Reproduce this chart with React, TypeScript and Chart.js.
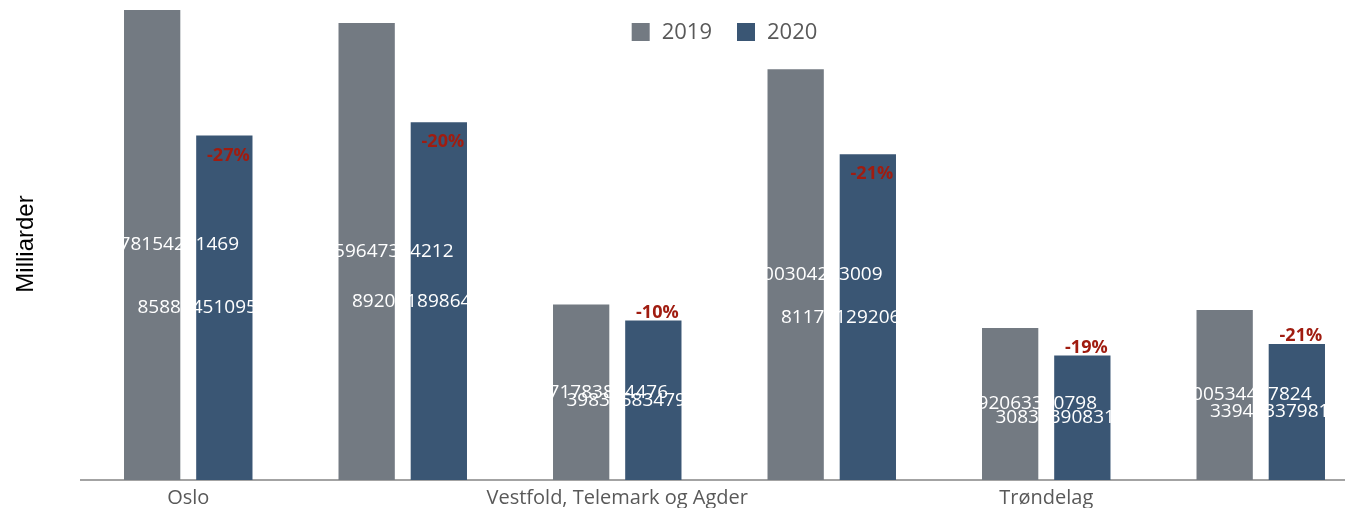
import React, { useEffect, useRef } from "react";
import { Chart, registerables } from "chart.js";

Chart.register(...registerables);

const categories = [
  "Oslo",
  "Innlandet og Viken",
  "Vestfold, Telemark og Agder",
  "Vestlandet",
  "Trøndelag",
  "Nord-Norge",
];
const seriesNames = ["2019", "2020"];
const values2019 = [49.8, 48.4, 18.6, 43.5, 16.1, 18.0];
const values2020 = [36.5, 37.9, 16.9, 34.5, 13.2, 14.4];
const valueLabels2019 = [
  "4961778154231469",
  "4834559647314212",
  "1745171783844476",
  "4352100304213009",
  "1559292063300798",
  "1720100534477824",
];
const valueLabels2020 = [
  "8588745109534712",
  "8920318986412057",
  "3983558347920471",
  "8117512920693850",
  "3083339083164527",
  "3394533798120146",
];
const changeLabels = ["-27%", "-20%", "-10%", "-21%", "-19%", "-21%"];
const yMin = 0;
const yMax = 50;

const colors = ["#737a82", "#3a5674"];
const labelFont = "19px 'Open Sans', sans-serif";
const pctFont = "bold 18px 'Open Sans', sans-serif";
const legendFont = "22px 'Open Sans', sans-serif";

const overlayPlugin = {
  id: "overlay",
  afterDatasetsDraw(chart: any) {
    const ctx = chart.ctx;
    const ca = chart.chartArea;
    ctx.save();
    ctx.font = labelFont;
    ctx.fillStyle = "#ffffff";
    ctx.textAlign = "center";
    ctx.textBaseline = "middle";
    const lbls = [valueLabels2019, valueLabels2020];
    for (let d = 0; d < 2; d++) {
      const meta = chart.getDatasetMeta(d);
      meta.data.forEach((bar: any, i: number) => {
        ctx.fillText(lbls[d][i], bar.x, (bar.y + bar.base) / 2);
      });
    }
    ctx.font = pctFont;
    ctx.fillStyle = "#a01c10";
    const meta20 = chart.getDatasetMeta(1);
    meta20.data.forEach((bar: any, i: number) => {
      const v = values2020[i];
      if (v > 25) {
        ctx.textBaseline = "top";
        ctx.fillText(changeLabels[i], bar.x + 4, bar.y + 11);
      } else {
        ctx.textBaseline = "bottom";
        ctx.fillText(changeLabels[i], bar.x + 4, bar.y + 1);
      }
    });
    ctx.font = legendFont;
    ctx.textAlign = "left";
    ctx.textBaseline = "middle";
    const box = 18;
    const gapBox = 12;
    const gapItem = 25;
    const widths = seriesNames.map((s) => ctx.measureText(s).width);
    const total =
      widths.reduce((a, w) => a + box + gapBox + w, 0) + gapItem * (seriesNames.length - 1);
    let x = (ca.left + ca.right) / 2 - total / 2;
    const cy = 24;
    seriesNames.forEach((s, i) => {
      ctx.fillStyle = colors[i];
      ctx.fillRect(x, cy - box / 2, box, box);
      x += box + gapBox;
      ctx.fillStyle = "#595959";
      ctx.fillText(s, x, cy + 1);
      x += widths[i] + gapItem;
    });
    ctx.restore();
  },
};

export default function App() {
  const ref = useRef<HTMLCanvasElement | null>(null);
  useEffect(() => {
    document.documentElement.style.overflow = "hidden";
    if (!ref.current) return;
    const chart = new Chart(ref.current, {
      type: "bar",
      data: {
        labels: categories,
        datasets: [
          {
            label: seriesNames[0],
            data: values2019,
            backgroundColor: colors[0],
            barPercentage: 0.78,
            categoryPercentage: 0.673,
          },
          {
            label: seriesNames[1],
            data: values2020,
            backgroundColor: colors[1],
            barPercentage: 0.78,
            categoryPercentage: 0.673,
          },
        ],
      },
      options: {
        animation: false,
        responsive: true,
        maintainAspectRatio: false,
        layout: { padding: { left: 0, right: 0, top: 0, bottom: 0 } },
        plugins: {
          legend: { display: false },
          tooltip: { enabled: false },
        },
        scales: {
          x: {
            grid: { display: false, drawTicks: false },
            border: { display: true, color: "#a3a3a3", width: 2 },
            ticks: {
              color: "#595959",
              font: { family: "'Open Sans', sans-serif", size: 20 },
              maxRotation: 0,
              minRotation: 0,
              autoSkip: true,
              padding: 6,
            },
          },
          y: {
            min: yMin,
            max: yMax,
            grid: { display: false, drawTicks: false },
            border: { display: false },
            ticks: { display: false },
            title: {
              display: true,
              text: "Milliarder",
              color: "#000000",
              font: { family: "'Liberation Sans', Arial, sans-serif", size: 24 },
            },
            afterFit: (s: any) => {
              s.width = 73;
            },
          },
        },
      },
      plugins: [overlayPlugin],
    });
    return () => chart.destroy();
  }, []);
  return (
    <div style={{ width: 1345, height: 500, overflow: "hidden" }}>
      <div style={{ width: 1360, height: 508, position: "relative" }}>
        <canvas ref={ref} />
      </div>
    </div>
  );
}
